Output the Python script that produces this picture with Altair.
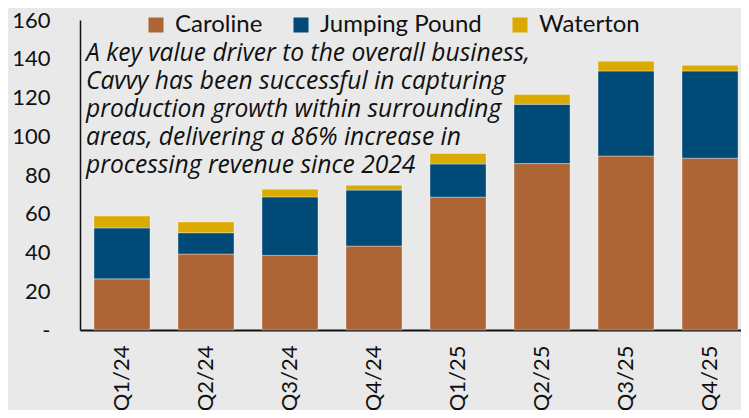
import altair as alt
import pandas as pd

quarters = ["Q1/24", "Q2/24", "Q3/24", "Q4/24", "Q1/25", "Q2/25", "Q3/25", "Q4/25"]
series = ["Caroline", "Jumping Pound", "Waterton"]
caroline = [26.4, 39.2, 38.5, 43.3, 68.6, 85.9, 89.8, 88.7]
jumping_pound = [26.3, 11.0, 30.2, 28.9, 17.1, 30.6, 43.9, 45.0]
waterton = [6.1, 5.5, 4.0, 2.5, 5.4, 5.0, 5.0, 2.9]
colors = ["#AD6535", "#004A77", "#DBAA00"]
y_ticks = [0, 20, 40, 60, 80, 100, 120, 140, 160]
note_lines = [
    "A key value driver to the overall business,",
    "Cavvy has been successful in capturing",
    "production growth within surrounding",
    "areas, delivering a 86% increase in",
    "processing revenue since 2024",
]

rows = []
for name, vals in zip(series, [caroline, jumping_pound, waterton]):
    for q, v in zip(quarters, vals):
        rows.append({"quarter": q, "series": name, "value": v, "order": series.index(name)})
df = pd.DataFrame(rows)

FONT = "Lato"

bars = alt.Chart(df).mark_bar(stroke="#ffffff", strokeOpacity=0.35, strokeWidth=1).encode(
    x=alt.X("quarter:N", sort=quarters,
            scale=alt.Scale(paddingInner=1/3, paddingOuter=0.101, align=0.825),
            axis=alt.Axis(title=None, labelAngle=270, labelAlign="right", labelBaseline="middle",
                          labelPadding=15, ticks=False, domainColor="#111111", domainWidth=2,
                          labelFont=FONT, labelFontSize=22, labelColor="#111111")),
    y=alt.Y("value:Q", stack="zero",
            scale=alt.Scale(domain=[0, 160], nice=False),
            axis=alt.Axis(title=None, values=y_ticks, grid=False, ticks=False,
                          labelExpr="datum.value == 0 ? '-' : datum.label",
                          labelPadding=30, domainColor="#111111", domainWidth=1.5,
                          labelFont=FONT, labelFontSize=22, labelColor="#111111")),
    color=alt.Color("series:N", sort=series,
                    scale=alt.Scale(domain=series, range=colors),
                    legend=alt.Legend(title=None, orient="none", direction="horizontal",
                                      legendX=64, legendY=-7, symbolType="square",
                                      symbolSize=225, symbolStrokeWidth=0, labelOffset=7,
                                      columnPadding=26, labelLimit=400, labelFont=FONT,
                                      labelFontSize=24, labelColor="#111111")),
    order=alt.Order("order:Q"),
)

note = alt.Chart(pd.DataFrame({"t": [note_lines]})).mark_text(
    align="left", baseline="alphabetic", font="Open Sans", fontStyle="italic",
    fontSize=24.6, lineHeight=28, color="#111111"
).encode(x=alt.value(6), y=alt.value(41), text="t")

chart = alt.layer(bars, note).properties(
    width=661, height=310,
    autosize=alt.AutoSizeParams(type="none"),
    padding={"left": 72, "top": 12, "right": 0, "bottom": 80},
).configure(background="#E9E9E9").configure_view(stroke=None)

chart.save("out.html", embed_options={"renderer": "svg", "actions": False})
